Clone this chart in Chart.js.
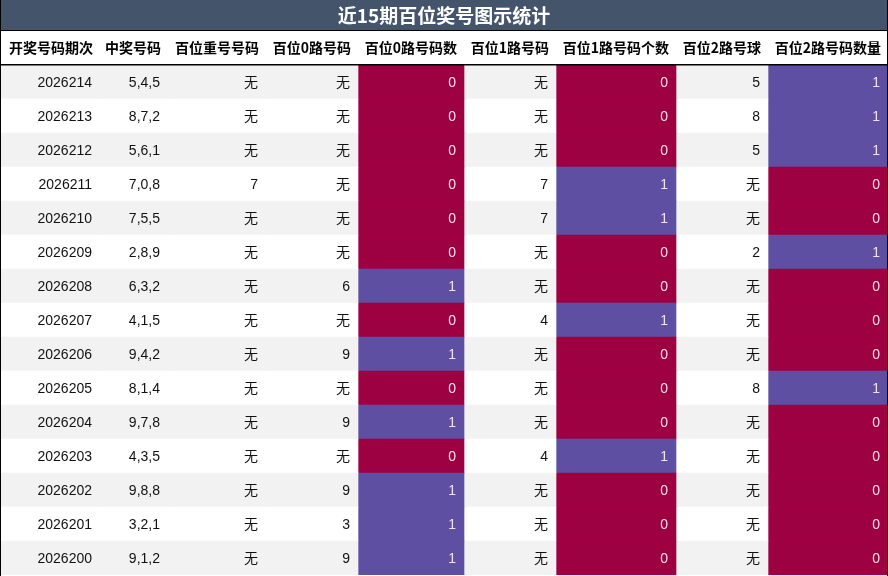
<!DOCTYPE html>
<html>
<head>
<meta charset="utf-8">
<script src="https://cdn.jsdelivr.net/npm/chart.js@4"></script>
<style>body{margin:0;background:#fff}</style>
</head>
<body>
<canvas id="c" width="888" height="576"></canvas>
<script>
var title = "近15期百位奖号图示统计";
var headers = ["开奖号码期次", "中奖号码", "百位重号号码", "百位0路号码", "百位0路号码数", "百位1路号码", "百位1路号码个数", "百位2路号球", "百位2路号码数量"];
var periods = ["2026214", "2026213", "2026212", "2026211", "2026210", "2026209", "2026208", "2026207", "2026206", "2026205", "2026204", "2026203", "2026202", "2026201", "2026200"];
var draws = ["5,4,5", "8,7,2", "5,6,1", "7,0,8", "7,5,5", "2,8,9", "6,3,2", "4,1,5", "9,4,2", "8,1,4", "9,7,8", "4,3,5", "9,8,8", "3,2,1", "9,1,2"];
var repeat = ["无", "无", "无", "7", "无", "无", "无", "无", "无", "无", "无", "无", "无", "无", "无"];
var road0 = ["无", "无", "无", "无", "无", "无", "6", "无", "9", "无", "9", "无", "9", "3", "9"];
var road0Count = [0, 0, 0, 0, 0, 0, 1, 0, 1, 0, 1, 0, 1, 1, 1];
var road1 = ["无", "无", "无", "7", "7", "无", "无", "4", "无", "无", "无", "4", "无", "无", "无"];
var road1Count = [0, 0, 0, 1, 1, 0, 0, 1, 0, 0, 0, 1, 0, 0, 0];
var road2 = ["5", "8", "5", "无", "无", "2", "无", "无", "无", "8", "无", "无", "无", "无", "无"];
var road2Count = [1, 1, 1, 0, 0, 1, 0, 0, 0, 1, 0, 0, 0, 0, 0];

var columns = [periods, draws, repeat, road0, road0Count, road1, road1Count, road2, road2Count];
var countCols = [4, 6, 8];
var colWidths = [100, 68, 98, 92, 106, 92, 120, 92, 120];
var FONT = '"Liberation Sans", "Noto Sans CJK SC", sans-serif';

function cellColor(col, row) {
    if (countCols.indexOf(col) >= 0) return columns[col][row] == 1 ? "#5e4fa2" : "#9e0142";
    return row % 2 == 0 ? "#f2f2f2" : "#ffffff";
}

var datasets = columns.map(function (vals, ci) {
    return {
        data: periods.map(function () { return colWidths[ci]; }),
        backgroundColor: periods.map(function (p, ri) { return cellColor(ci, ri); }),
        borderWidth: 0
    };
});

var tablePlugin = {
    id: "tableText",
    afterDatasetsDraw: function (chart) {
        var ctx = chart.ctx;
        var area = chart.chartArea;
        ctx.save();
        // title bar
        ctx.fillStyle = "#44546a";
        ctx.fillRect(0, 0, chart.width, 30);
        ctx.fillStyle = "#ffffff";
        ctx.font = 'bold 19px "Noto Sans CJK SC", sans-serif';
        ctx.textAlign = "center";
        ctx.textBaseline = "middle";
        ctx.fillText(title, chart.width / 2, 16);
        ctx.fillStyle = "#000";
        ctx.fillRect(0, 30, chart.width, 1);
        ctx.fillRect(0, area.top - 1, chart.width, 1.5);
        ctx.fillRect(0, 0, 1, chart.height);
        ctx.fillRect(chart.width - 1, 0, 1, chart.height);
        // header
        ctx.font = 'bold 14px "Noto Sans CJK SC", sans-serif';
        ctx.textAlign = "right";
        chart.data.datasets.forEach(function (ds, ci) {
            var bar = chart.getDatasetMeta(ci).data[0];
            ctx.fillStyle = "#000";
            ctx.fillText(headers[ci], bar.x - 7, (31 + area.top) / 2);
        });
        // cells
        ctx.font = '14px ' + FONT;
        chart.data.datasets.forEach(function (ds, ci) {
            chart.getDatasetMeta(ci).data.forEach(function (bar, ri) {
                ctx.fillStyle = countCols.indexOf(ci) >= 0 ? "#f3e3e8" : "#111";
                ctx.fillText(String(columns[ci][ri]), bar.x - 8, bar.y + 1);
            });
        });
        ctx.restore();
    }
};

new Chart(document.getElementById("c"), {
    type: "bar",
    data: { labels: periods, datasets: datasets },
    options: {
        indexAxis: "y",
        responsive: false,
        devicePixelRatio: 1,
        animation: false,
        layout: { padding: { top: 65, left: 0, right: 0, bottom: 1 } },
        plugins: { legend: { display: false }, tooltip: { enabled: false }, title: { display: false } },
        datasets: { bar: { barPercentage: 1, categoryPercentage: 1 } },
        scales: {
            x: { stacked: true, min: 0, max: 888, display: false },
            y: { stacked: true, display: false }
        }
    },
    plugins: [tablePlugin]
});
</script>
</body>
</html>
